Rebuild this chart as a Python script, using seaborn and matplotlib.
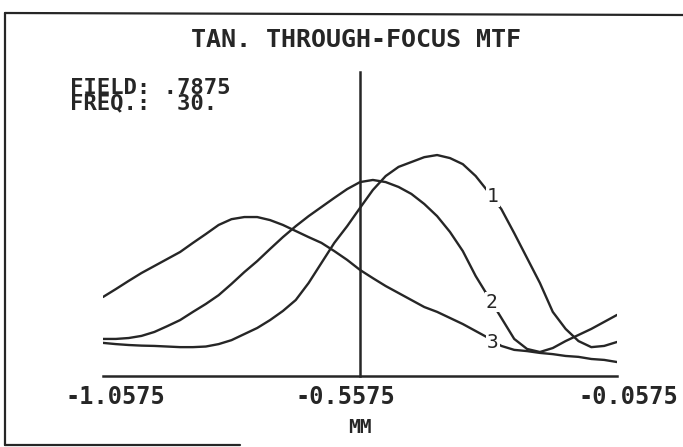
import numpy as np
import pandas as pd
import matplotlib
matplotlib.use("Agg")
import matplotlib.pyplot as plt
from matplotlib.lines import Line2D
import seaborn as sns

# ── Data ────────────────────────────────────────────────────────────────────
FOCUS_MM = np.round(np.arange(41) * 0.025 - 1.0575, 4)

MTF_1 = [0.109, 0.105, 0.102, 0.100, 0.099, 0.097, 0.095, 0.095, 0.097, 0.105,
         0.118, 0.138, 0.158, 0.184, 0.214, 0.250, 0.306, 0.372, 0.438, 0.493,
         0.553, 0.612, 0.658, 0.688, 0.704, 0.720, 0.727, 0.717, 0.697, 0.658,
         0.605, 0.549, 0.470, 0.388, 0.306, 0.211, 0.155, 0.115, 0.095, 0.099,
         0.112]
MTF_2 = [0.122, 0.122, 0.125, 0.132, 0.145, 0.164, 0.184, 0.211, 0.237, 0.266,
         0.303, 0.342, 0.378, 0.418, 0.457, 0.493, 0.526, 0.556, 0.586, 0.615,
         0.638, 0.645, 0.638, 0.622, 0.599, 0.566, 0.526, 0.474, 0.411, 0.329,
         0.260, 0.191, 0.122, 0.089, 0.079, 0.092, 0.115, 0.135, 0.155, 0.178,
         0.201]
MTF_3 = [0.260, 0.286, 0.313, 0.339, 0.362, 0.385, 0.408, 0.438, 0.467, 0.497,
         0.516, 0.523, 0.523, 0.513, 0.497, 0.477, 0.457, 0.438, 0.411, 0.382,
         0.349, 0.322, 0.296, 0.273, 0.250, 0.227, 0.211, 0.191, 0.171, 0.148,
         0.125, 0.099, 0.086, 0.082, 0.076, 0.072, 0.066, 0.063, 0.056, 0.053,
         0.046]

CURVE_NAMES = ["1", "2", "3"]
CURVE_TAG_X = [-0.299, -0.301, -0.299]
CURVE_TAG_Y = [0.589, 0.243, 0.109]

XTICK_VALUES = [-1.0575, -0.5575, -0.0575]
XTICK_LABELS = ["-1.0575", "-0.5575", "-0.0575"]
XLABEL_SHIFT = [12, -15, 11]          # pixel shifts of the printed labels

TITLE = "TAN. THROUGH-FOCUS MTF"
INFO_LINES = ["FIELD: .7875", "FREQ.:  30."]

# ── Style ───────────────────────────────────────────────────────────────────
sns.set_style("white")
plt.rcParams["font.family"] = ["DejaVu Sans Mono", "DejaVu Sans"]
INK = "#262626"

df = pd.DataFrame({
    "focus": np.tile(FOCUS_MM, 3),
    "mtf": MTF_1 + MTF_2 + MTF_3,
    "curve": np.repeat(CURVE_NAMES, len(FOCUS_MM)),
})

fig = plt.figure(figsize=(6.83, 4.47), dpi=100)
ax = fig.add_axes([0.1508, 0.1588, 0.7526, 0.680])

sns.lineplot(data=df, x="focus", y="mtf", hue="curve", units="curve",
             estimator=None, palette=[INK] * 3, linewidth=1.7,
             legend=False, ax=ax)

ax.set_xlim(-1.0575, -0.0575)
ax.set_ylim(0, 1.0)

# axes: baseline at bottom, vertical axis at mid focus
for side in ["top", "right"]:
    ax.spines[side].set_visible(False)
ax.spines["left"].set_position(("data", -0.5575))
ax.spines["left"].set_color(INK)
ax.spines["left"].set_linewidth(1.8)
ax.spines["bottom"].set_color(INK)
ax.spines["bottom"].set_linewidth(1.8)

ax.set_xticks(np.round(np.linspace(-1.0575, -0.0575, 11), 4))
ax.set_yticks(np.round(np.linspace(0, 1, 11), 2))
ax.set_xticklabels([])
ax.set_yticklabels([])
ax.tick_params(axis="both", direction="in", length=4, width=1.2, color=INK)
ax.set_xlabel("")
ax.set_ylabel("")

# curve numbers
for name, tx, ty in zip(CURVE_NAMES, CURVE_TAG_X, CURVE_TAG_Y):
    ax.text(tx, ty, name, ha="center", va="center", fontsize=14, color=INK,
            bbox=dict(facecolor="white", edgecolor="none", pad=0.5))

# printed x labels
for val, lab, dx in zip(XTICK_VALUES, XTICK_LABELS, XLABEL_SHIFT):
    ax.annotate(lab, xy=(val, 0), xytext=(dx, -21), textcoords="offset pixels",
                ha="center", va="center", fontsize=17, fontweight="bold",
                color=INK, annotation_clip=False)
ax.annotate("MM", xy=(-0.5575, 0), xytext=(0, -51), textcoords="offset pixels",
            ha="center", va="center", fontsize=14, fontweight="bold",
            color=INK, annotation_clip=False)

# header texts
fig.text(356 / 683, 1 - 40 / 447, TITLE, ha="center", va="center",
         fontsize=18, fontweight="bold", color=INK)
fig.text(70 / 683, 1 - 96 / 447, "\n".join(INFO_LINES), ha="left",
         va="center", fontsize=16, fontweight="bold", color=INK,
         linespacing=0.72)

# scanned page frame (top, left and part of the bottom edge)
W, H = 683, 447
frame = [((5, 683), (13, 15)), ((5, 5), (13, 445)), ((5, 240), (445, 445))]
for xs, ys in frame:
    fig.add_artist(Line2D([x / W for x in xs], [1 - y / H for y in ys],
                          color=INK, linewidth=1.6, transform=fig.transFigure))

fig.savefig("out.png", dpi=100)
